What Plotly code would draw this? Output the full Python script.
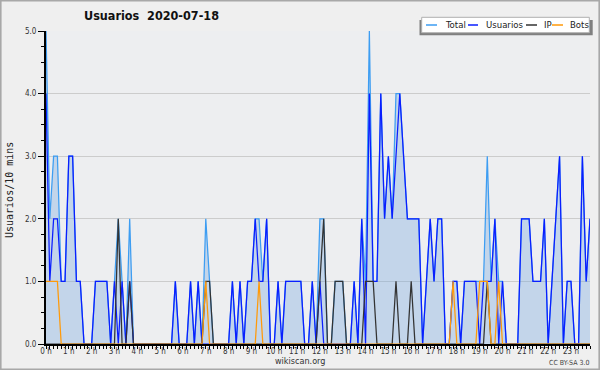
import plotly.graph_objects as go

# ---- data (10-minute slots over the day) ----
slot_minutes = list(range(0, 1440, 10))
hour_ticks = list(range(0, 1440, 60))
hour_labels = ["0 h", "1 h", "2 h", "3 h", "4 h", "5 h", "6 h", "7 h", "8 h", "9 h",
               "10 h", "11 h", "12 h", "13 h", "14 h", "15 h", "16 h", "17 h", "18 h",
               "19 h", "20 h", "21 h", "22 h", "23 h"]

total = [5, 2, 3, 3, 1, 1, 3, 3, 1, 1, 0, 0, 0, 1, 1, 1, 1, 0, 1, 2, 1, 0, 2, 0,
         0, 0, 0, 0, 0, 0, 0, 0, 0, 0, 1, 0, 0, 0, 1, 0, 1, 0, 2, 1, 0, 0, 0, 0,
         0, 1, 0, 1, 0, 1, 1, 2, 2, 1, 2, 0, 0, 1, 0, 1, 1, 1, 1, 1, 0, 0, 1, 0,
         2, 2, 0, 0, 1, 1, 1, 0, 0, 1, 0, 2, 1, 5, 1, 1, 4, 2, 3, 2, 4, 4, 3, 2,
         2, 2, 2, 0, 1, 2, 1, 2, 2, 0, 0, 1, 1, 0, 1, 1, 1, 1, 1, 1, 3, 1, 2, 1,
         1, 0, 0, 0, 0, 2, 2, 2, 1, 1, 1, 2, 0, 1, 2, 3, 0, 1, 1, 0, 0, 3, 1, 2]

usuarios = [4, 1, 2, 2, 1, 1, 3, 3, 1, 1, 0, 0, 0, 1, 1, 1, 1, 0, 1, 0, 1, 0, 1, 0,
            0, 0, 0, 0, 0, 0, 0, 0, 0, 0, 1, 0, 0, 0, 1, 0, 1, 0, 0, 0, 0, 0, 0, 0,
            0, 1, 0, 1, 0, 1, 1, 2, 1, 1, 2, 0, 0, 1, 0, 1, 1, 1, 1, 1, 0, 0, 1, 0,
            1, 0, 0, 0, 0, 0, 0, 0, 0, 1, 0, 2, 0, 4, 1, 1, 4, 2, 3, 2, 3, 4, 3, 2,
            2, 2, 2, 0, 1, 2, 1, 2, 2, 0, 0, 1, 1, 0, 1, 1, 1, 1, 0, 1, 1, 1, 2, 0,
            1, 0, 0, 0, 0, 2, 2, 2, 1, 1, 1, 2, 0, 1, 2, 3, 0, 1, 1, 0, 0, 3, 1, 2]

ip = [0, 0, 0, 0, 0, 0, 0, 0, 0, 0, 0, 0, 0, 0, 0, 0, 0, 0, 0, 2, 0, 0, 1, 0,
      0, 0, 0, 0, 0, 0, 0, 0, 0, 0, 0, 0, 0, 0, 0, 0, 0, 0, 1, 1, 0, 0, 0, 0,
      0, 0, 0, 0, 0, 0, 0, 0, 0, 0, 0, 0, 0, 0, 0, 0, 0, 0, 0, 0, 0, 0, 0, 0,
      1, 2, 0, 0, 1, 1, 1, 0, 0, 0, 0, 0, 1, 1, 1, 0, 0, 0, 0, 0, 1, 0, 0, 0,
      1, 0, 0, 0, 0, 0, 0, 0, 0, 0, 0, 0, 0, 0, 0, 0, 0, 0, 0, 0, 1, 0, 0, 0,
      0, 0, 0, 0, 0, 0, 0, 0, 0, 0, 0, 0, 0, 0, 0, 0, 0, 0, 0, 0, 0, 0, 0, 0]

bots = [1, 1, 1, 1, 0, 0, 0, 0, 0, 0, 0, 0, 0, 0, 0, 0, 0, 0, 0, 0, 0, 0, 0, 0,
        0, 0, 0, 0, 0, 0, 0, 0, 0, 0, 0, 0, 0, 0, 0, 0, 0, 0, 1, 0, 0, 0, 0, 0,
        0, 0, 0, 0, 0, 0, 0, 0, 1, 0, 0, 0, 0, 0, 0, 0, 0, 0, 0, 0, 0, 0, 0, 0,
        0, 0, 0, 0, 0, 0, 0, 0, 0, 0, 0, 0, 0, 0, 0, 0, 0, 0, 0, 0, 0, 0, 0, 0,
        0, 0, 0, 0, 0, 0, 0, 0, 0, 0, 0, 1, 0, 0, 0, 0, 0, 0, 1, 1, 1, 0, 0, 1,
        0, 0, 0, 0, 0, 0, 0, 0, 0, 0, 0, 0, 0, 0, 0, 0, 0, 0, 0, 0, 0, 0, 0, 0]

series_names = ["Total", "Usuarios", "IP", "Bots"]
series_colors = ["#3d9df2", "#0a1eff", "#333333", "#ff9a0a"]

# ---- layout geometry (pixels) ----
W, H = 600, 370
ML, MR, MT, MB = 46, 10, 31, 26
PW, PH = W - ML - MR, H - MT - MB
FONT = "DejaVu Sans Condensed, DejaVu Sans, sans-serif"


def px(x):
    return (x - ML) / PW


def py(y):
    return (H - MB - y) / PH


fig = go.Figure()
for name, vals, col in zip(series_names, [total, usuarios, ip, bots], series_colors):
    kw = {}
    if name == "Total":
        kw = dict(fill="tozeroy", fillcolor="rgba(110,165,222,0.33)")
    fig.add_trace(go.Scatter(x=slot_minutes, y=vals, mode="lines", name=name,
                             line=dict(color=col, width=1.25), showlegend=False, **kw))

shapes = []
annotations = []
# outer frame
shapes.append(dict(type="rect", xref="paper", yref="paper", x0=px(0.8), x1=px(599.2),
                   y0=py(369.2), y1=py(0.8), line=dict(color="#a8a8a8", width=1.6),
                   fillcolor="rgba(0,0,0,0)", layer="above"))
# legend (shadow, box, entries)
shapes.append(dict(type="rect", xref="paper", yref="paper", x0=px(419.5), x1=px(592.7),
                   y0=py(35.3), y1=py(20), line=dict(width=0), fillcolor="#808080",
                   layer="above"))
shapes.append(dict(type="rect", xref="paper", yref="paper", x0=px(421.7), x1=px(589.3),
                   y0=py(32.7), y1=py(17.3), line=dict(color="#b0b0b0", width=1),
                   fillcolor="#ffffff", layer="above"))
leg_line_x = [(426, 437), (468, 478), (526, 537), (552, 563)]
leg_text_x = [442.5, 484, 542, 568]
for (a, b), tx, name, col in zip(leg_line_x, leg_text_x, series_names, series_colors):
    shapes.append(dict(type="line", xref="paper", yref="paper", x0=px(a), x1=px(b),
                       y0=py(25), y1=py(25), line=dict(color=col, width=1.5), layer="above"))
    annotations.append(dict(text=name, xref="paper", yref="paper", x=px(tx), y=py(25),
                            xanchor="left", yanchor="middle", showarrow=False,
                            font=dict(family=FONT, size=9.5, color="#222")))

annotations.append(dict(text="<b>Usuarios\u00a0 2020-07-18</b>", xref="paper", yref="paper",
                        x=px(151), y=py(16), xanchor="center", yanchor="middle",
                        showarrow=False, font=dict(family=FONT, size=12.5, color="#111")))
annotations.append(dict(text="wikiscan.org", xref="paper", yref="paper",
                        x=px(300), y=py(361.5), xanchor="center", yanchor="middle",
                        showarrow=False, font=dict(family=FONT, size=9, color="#333")))
annotations.append(dict(text="CC BY-SA 3.0", xref="paper", yref="paper",
                        x=px(569), y=py(363), xanchor="center", yanchor="middle",
                        showarrow=False, font=dict(family=FONT, size=7, color="#444")))
annotations.append(dict(text="Usuarios/10 mins", xref="paper", yref="paper",
                        x=px(9), y=py(190), xanchor="center", yanchor="middle",
                        textangle=-90, showarrow=False,
                        font=dict(family="DejaVu Sans Mono, monospace", size=10, color="#222")))

fig.update_layout(
    width=W, height=H,
    margin=dict(l=ML, r=MR, t=MT, b=MB, pad=0, autoexpand=False),
    paper_bgcolor="#efefef", plot_bgcolor="#edeef0",
    shapes=shapes, annotations=annotations, showlegend=False,
    font=dict(family=FONT, size=9, color="#333"),
)
fig.update_xaxes(range=[0, 1430], tickmode="array", tickvals=hour_ticks, ticktext=hour_labels,
                 ticks="outside", ticklen=3, tickcolor="#000", tickwidth=1, automargin=False,
                 ticklabelstandoff=-5,
                 showline=True, linecolor="#000", linewidth=2, showgrid=False, zeroline=False,
                 minor=dict(tickmode="linear", tick0=0, dtick=10, ticks="outside", ticklen=3,
                            tickcolor="#000", showgrid=False),
                 tickfont=dict(family=FONT, size=8, color="#333"), fixedrange=True)
fig.update_yaxes(range=[0, 5], tickmode="linear", tick0=0, dtick=1, tickformat=".1f",
                 ticks="outside", ticklen=6, tickcolor="#000", tickwidth=1, automargin=False,
                 showline=True, linecolor="#000", linewidth=2, showgrid=True,
                 gridcolor="#cccccc", gridwidth=1, zeroline=False,
                 minor=dict(tickmode="linear", tick0=0, dtick=0.25, ticks="outside", ticklen=3,
                            tickcolor="#000", showgrid=False),
                 tickfont=dict(family=FONT, size=8, color="#333"), fixedrange=True)

fig.write_html("out.html")
